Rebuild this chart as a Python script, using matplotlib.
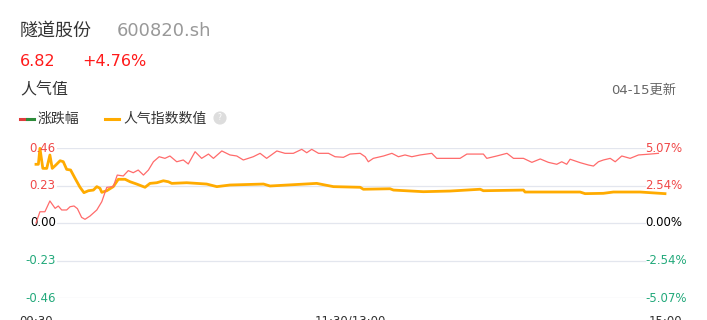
"""Popularity vs. price-change intraday chart for 隧道股份 (600820.sh)."""
import matplotlib

matplotlib.use("Agg")
import matplotlib.pyplot as plt  # noqa: E402
import matplotlib.transforms as mtransforms  # noqa: E402
from matplotlib.lines import Line2D  # noqa: E402

plt.rcParams["font.family"] = ["Noto Sans CJK SC", "DejaVu Sans"]

W, H = 707, 320

# minutes since 09:30, lunch break removed (0..240)
chg_minutes = [0, 1.5, 3.4, 5.3, 7.3, 8.5, 9.8, 11.7, 13, 14.5, 15.8, 17.4, 18.7, 20.6,
               23.2, 25.1, 27, 29.5, 31, 33.3, 35.2, 37.1, 39, 41, 42.9, 44.8, 47, 49.2,
               51.1, 53.7, 56.2, 58.1, 60.7, 63.2, 65.8, 67.7, 70.9, 74, 76.6, 79.1, 82.9,
               85.5, 88, 91.9, 95, 98.2, 101.4, 103.3, 105.2, 107.8, 111.6, 114.1, 117.3,
               119.8, 123.7, 125.6, 126.8, 128.7, 132.6, 135.8, 138.3, 140.8, 143.4, 146.6,
               151, 152.9, 161.8, 164.4, 170.7, 172, 175.8, 179.7, 182.2, 186, 189.2, 192.4,
               195.5, 198.7, 200.6, 202.5, 203.8, 207.6, 210.8, 212.7, 214.6, 216.5, 219.1,
               221, 223.5, 226.7, 229.9, 234.4, 237.5]
chg_pct = [0.00, 0.76, 0.76, 1.49, 0.99, 1.15, 0.88, 0.88, 1.10, 1.15, 0.97, 0.38, 0.25, 0.47,
           0.88, 1.44, 2.41, 2.46, 3.24, 3.18, 3.54, 3.40, 3.58, 3.24, 3.58, 4.14, 4.48, 4.37,
           4.53, 4.14, 4.26, 3.99, 4.82, 4.37, 4.66, 4.37, 4.87, 4.60, 4.53, 4.26, 4.48,
           4.71, 4.37, 4.87, 4.71, 4.71, 4.98, 4.75, 4.98, 4.71, 4.71, 4.48, 4.44,
           4.66, 4.71, 4.48, 4.14, 4.37, 4.53, 4.71, 4.48, 4.60, 4.48, 4.60,
           4.71, 4.37, 4.37, 4.66, 4.66, 4.37, 4.53, 4.71, 4.37, 4.37, 4.10, 4.33,
           4.10, 3.97, 4.14, 3.97, 4.31, 4.08, 3.92, 3.85, 4.14, 4.26, 4.37,
           4.14, 4.53, 4.37, 4.60, 4.66, 4.71]

pop_minutes = [0, 0.9, 1.5, 2.6, 4.1, 5.3, 6.2, 7.6, 9.2, 10.4, 11.7, 13.2, 14.9, 16.8, 18.3,
               20, 21.9, 23.2, 24.4, 25.1, 27, 29.5, 31.4, 34, 35.9, 38.4, 41.6, 43.5, 46.1,
               48.6, 50.5, 51.8, 57.5, 65.1, 69, 74, 86.8, 89.3, 107.1, 113.5, 123.7, 124.9,
               135.1, 136.4, 147.8, 158, 169.5, 170.7, 186, 186.6, 207.6, 209.5, 216.5,
               220.3, 230.5, 240]
pop_value = [0.360, 0.360, 0.458, 0.335, 0.335, 0.417, 0.335, 0.356, 0.382, 0.376, 0.329,
             0.325, 0.274, 0.219, 0.186, 0.198, 0.202, 0.223, 0.213, 0.188, 0.198, 0.223,
             0.268, 0.268, 0.253, 0.239, 0.219, 0.243, 0.247, 0.259, 0.253, 0.243, 0.247,
             0.239, 0.223, 0.233, 0.239, 0.227, 0.243, 0.223, 0.219, 0.207, 0.210, 0.202,
             0.192, 0.196, 0.207, 0.198, 0.202, 0.190, 0.190, 0.180, 0.182, 0.190, 0.190,
             0.180]

left_ticks = [0.46, 0.23, 0.00, -0.23, -0.46]
left_labels = ["0.46", "0.23", "0.00", "-0.23", "-0.46"]
right_labels = ["5.07%", "2.54%", "0.00%", "-2.54%", "-5.07%"]
x_ticks = [0, 120, 240]
x_labels = ["09:30", "11:30/13:00", "15:00"]

RED = "#f04848"
GREEN = "#23a97b"
YELLOW = "#ffab00"
LATIN_FIRST = ["DejaVu Sans", "Noto Sans CJK SC"]


def fx(x):
    return x / W


def fy(y):
    return 1 - y / H


fig = plt.figure(figsize=(W / 100, H / 100), dpi=100)

# header
fig.text(fx(20), fy(31), "隧道股份", fontsize=13, color="#333333", va="center")
fig.text(fx(117), fy(31), "600820.sh", fontsize=13, color="#999999", va="center",
         family="DejaVu Sans")
fig.text(fx(20), fy(61), "6.82", fontsize=11.5, color="#ff1a1a", va="center",
         family="DejaVu Sans")
fig.text(fx(82), fy(61), "+4.76%", fontsize=11.5, color="#ff1a1a", va="center",
         family="DejaVu Sans")
fig.text(fx(20), fy(90), "人气值", fontsize=11.5, color="#333333", va="center")
fig.text(fx(676), fy(90), "04-15更新", fontsize=9.5, color="#666666", va="center", ha="right",
         family=LATIN_FIRST)

# legend
fig.add_artist(Line2D([fx(20), fx(27)], [fy(119), fy(119)], color="#e03c3c", lw=2.2))
fig.add_artist(Line2D([fx(27), fx(34)], [fy(119), fy(119)], color="#2e8b3a", lw=2.2))
fig.text(fx(38), fy(119), "涨跌幅", fontsize=10, color="#333333", va="center")
fig.add_artist(Line2D([fx(105), fx(119)], [fy(119), fy(119)], color=YELLOW, lw=2.2))
fig.text(fx(123), fy(119), "人气指数数值", fontsize=10, color="#333333", va="center")
fig.text(fx(220), fy(118), "?", fontsize=6, color="white", ha="center", va="center",
         bbox=dict(boxstyle="circle,pad=0.25", fc="#dddddd", ec="none"))

# chart area: 09:30 at x=36, 15:00 at x=665, +0.46 at y=148, -0.46 at y=298
ax = fig.add_axes([fx(36), fy(298), (665 - 36) / W, (298 - 148) / H])
ax.set_xlim(0, 240)
ax.set_ylim(-0.46, 0.46)
ax.axis("off")
ax2 = ax.twinx()
ax2.set_ylim(-5.07, 5.07)
ax2.axis("off")

gx0, gx1 = (57 - 36) / 629, (645 - 36) / 629
for v in left_ticks:
    ax.axhline(v, xmin=gx0, xmax=gx1, color="#e3e6ee", lw=0.9, zorder=0)

ax2.plot(chg_minutes, chg_pct, color="#ff6b6b", lw=0.9, clip_on=False, zorder=2)
ax.plot(pop_minutes, pop_value, color=YELLOW, lw=2, clip_on=False, zorder=3)

trans = mtransforms.blended_transform_factory(ax.transAxes, ax.transData)
for v, ll, rl in zip(left_ticks, left_labels, right_labels):
    c = RED if v > 0 else (GREEN if v < 0 else "black")
    ax.text(gx0 - 0.002, v, ll, transform=trans, ha="right", va="center", fontsize=8.5,
            color=c, family="DejaVu Sans", zorder=5)
    ax.text(gx1, v, rl, transform=trans, ha="left", va="center", fontsize=8.5,
            color=c, family="DejaVu Sans", zorder=5)

# time labels sit at the bottom edge and are partly cut off, as in the source
xtrans = mtransforms.blended_transform_factory(ax.transData, fig.transFigure)
for t, lab in zip(x_ticks, x_labels):
    ax.text(t, fy(315), lab, transform=xtrans, ha="center", va="top", fontsize=8.5,
            color="#333333", family="DejaVu Sans", clip_on=False)

fig.savefig("out.png", dpi=100)
